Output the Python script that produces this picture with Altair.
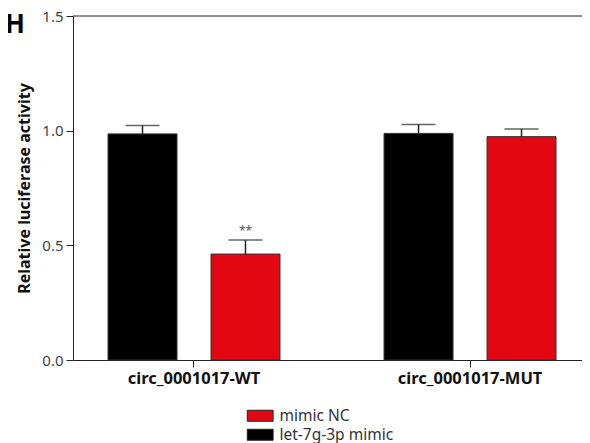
import altair as alt
import pandas as pd

groups = ["circ_0001017-WT", "circ_0001017-WT", "circ_0001017-MUT", "circ_0001017-MUT"]
treatments = ["let-7g-3p mimic", "mimic NC", "let-7g-3p mimic", "mimic NC"]
means = [0.986, 0.462, 0.988, 0.974]
errors = [0.036, 0.061, 0.039, 0.033]
marks = ["", "**", "", ""]
panel_label = ["H"]

group_order = ["circ_0001017-WT", "circ_0001017-MUT"]
bar_order = ["let-7g-3p mimic", "mimic NC"]
legend_order = ["mimic NC", "let-7g-3p mimic"]
colors = ["#e30613", "#000000"]

df = pd.DataFrame({
    "group": groups,
    "treatment": treatments,
    "mean": means,
    "upper": [m + e for m, e in zip(means, errors)],
    "mark": marks,
})

y_scale = alt.Scale(domain=[0, 1.5], nice=False, zero=True)

x = alt.X("group:N", sort=group_order,
          scale=alt.Scale(paddingInner=0.377, paddingOuter=0.1105, align=0.574),
          axis=alt.Axis(title=None, labelAngle=0, labelFontWeight="bold", labelFontSize=16.5,
                        labelColor="#111", tickSize=7, labelPadding=3,
                        domainColor="#222", tickColor="#222"))
xo = alt.XOffset("treatment:N", sort=bar_order,
                 scale=alt.Scale(paddingInner=0.33, paddingOuter=0))

base = alt.Chart(df)

bars = base.mark_bar(stroke="#333", strokeWidth=1).encode(
    x=x, xOffset=xo,
    y=alt.Y("mean:Q", scale=y_scale,
            axis=alt.Axis(values=[0, 0.5, 1.0, 1.5], format=".1f",
                          title="Relative luciferase activity", titleFontWeight="bold",
                          titleFontSize=16, titleColor="#111", titlePadding=9,
                          labelFontSize=15, labelColor="#444", tickSize=7, labelPadding=3,
                          grid=False, domainColor="#222", tickColor="#222")),
    color=alt.Color("treatment:N", scale=alt.Scale(domain=legend_order, range=colors),
                    legend=alt.Legend(title=None, orient="none", legendX=172, legendY=392,
                                      symbolType="M-1,-1L3.7,-1L3.7,1L-1,1Z", symbolSize=121,
                                      symbolStrokeColor="#222", symbolStrokeWidth=1,
                                      labelFontSize=15.5, labelColor="#333", labelOffset=19,
                                      rowPadding=2, padding=0, symbolOffset=0)),
)

stems = base.mark_rule(color="#222", strokeWidth=1.5).encode(
    x=x, xOffset=xo, y=alt.Y("mean:Q", scale=y_scale), y2="upper:Q")

caps = base.mark_tick(color="#222", size=34, thickness=1.5).encode(
    x=x, xOffset=xo, y=alt.Y("upper:Q", scale=y_scale))

stars = base.mark_text(dy=-9, fontSize=12, color="#555").encode(
    x=x, xOffset=xo, y=alt.Y("upper:Q", scale=y_scale), text="mark:N")

top = alt.Chart(pd.DataFrame({"y": [1.5]})).mark_rule(color="#222", strokeWidth=1).encode(
    y=alt.Y("y:Q", scale=y_scale))

label = alt.Chart(pd.DataFrame({"t": panel_label})).mark_text(
    fontSize=26, fontWeight="bold", color="#000", align="left", baseline="top").encode(
    text="t:N", x=alt.value(-68), y=alt.value(-4))

chart = alt.layer(bars, stems, caps, stars, top, label).properties(
    width=509, height=344,
    autosize=alt.AutoSizeParams(type="none"),
    padding={"left": 65, "top": 8, "right": 0, "bottom": 84},
).configure(font="Noto Sans").configure_view(stroke=None)

chart.save("out.html", embed_options={"renderer": "svg", "actions": False})
